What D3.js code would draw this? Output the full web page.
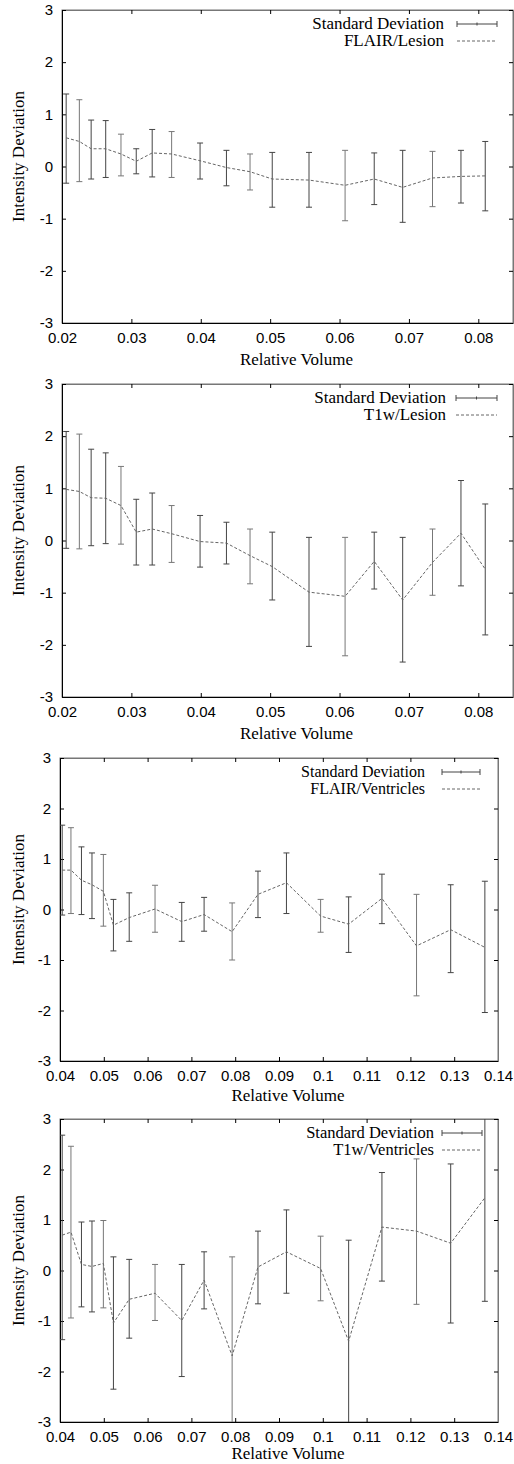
<!DOCTYPE html>
<html>
<head>
<meta charset="utf-8">
<script src="https://cdn.jsdelivr.net/npm/d3@7"></script>
<style>
  body { margin: 0; background: #fff; }
  .serif { font-family: 'Liberation Serif', 'Times New Roman', serif; }
  .sans { font-family: 'Liberation Sans', Arial, sans-serif; }
</style>
</head>
<body>
<div id="d3-container"></div>
<script>
// x values (relative volume)
const lesionVolume = [0.0206, 0.0225, 0.0242, 0.0263, 0.0285, 0.0307, 0.0330, 0.0358, 0.0399, 0.0437,
  0.0471, 0.0503, 0.0556, 0.0608, 0.0650, 0.0691, 0.0734, 0.0775, 0.0810];
const ventricleVolume = [0.0405, 0.0425, 0.0449, 0.0473, 0.0499, 0.0522, 0.0558, 0.0617, 0.0678, 0.0729,
  0.0793, 0.0852, 0.0917, 0.0995, 0.1059, 0.1135, 0.1214, 0.1292, 0.1370];

// FLAIR / Lesion
const flairLesionMean = [0.55, 0.48, 0.34, 0.34, 0.24, 0.10, 0.26, 0.24, 0.11, -0.02, -0.10, -0.24, -0.26, -0.36, -0.24, -0.40, -0.22, -0.19, -0.18];
const flairLesionHigh = [1.39, 1.28, 0.89, 0.88, 0.62, 0.34, 0.71, 0.67, 0.45, 0.31, 0.24, 0.27, 0.27, 0.31, 0.26, 0.31, 0.29, 0.31, 0.48];
const flairLesionLow = [-0.32, -0.29, -0.24, -0.21, -0.18, -0.14, -0.20, -0.21, -0.24, -0.37, -0.45, -0.78, -0.78, -1.04, -0.73, -1.07, -0.77, -0.70, -0.85];

// T1w / Lesion
const t1wLesionMean = [0.98, 0.94, 0.82, 0.81, 0.67, 0.16, 0.22, 0.13, -0.02, -0.05, -0.29, -0.50, -0.99, -1.07, -0.40, -1.14, -0.42, 0.14, -0.55];
const t1wLesionHigh = [2.09, 2.04, 1.75, 1.68, 1.42, 0.79, 0.91, 0.67, 0.48, 0.35, 0.22, 0.16, 0.06, 0.06, 0.16, 0.06, 0.22, 1.15, 0.70];
const t1wLesionLow = [-0.15, -0.16, -0.10, -0.06, -0.07, -0.47, -0.47, -0.42, -0.51, -0.45, -0.83, -1.14, -2.03, -2.21, -0.93, -2.33, -1.05, -0.87, -1.81];

// FLAIR / Ventricles
const flairVentMean = [0.78, 0.78, 0.58, 0.49, 0.36, -0.31, -0.16, 0.01, -0.24, -0.10, -0.44, 0.30, 0.53, -0.13, -0.29, 0.22, -0.72, -0.40, -0.75];
const flairVentHigh = [1.67, 1.62, 1.24, 1.12, 1.09, 0.20, 0.33, 0.48, 0.14, 0.24, 0.13, 0.76, 1.12, 0.20, 0.25, 0.70, 0.30, 0.49, 0.56];
const flairVentLow = [-0.11, -0.08, -0.10, -0.18, -0.33, -0.82, -0.63, -0.45, -0.63, -0.43, -1.00, -0.16, -0.08, -0.45, -0.85, -0.28, -1.71, -1.25, -2.04];

// T1w / Ventricles
const t1wVentMean = [0.70, 0.76, 0.12, 0.08, 0.14, -1.04, -0.57, -0.45, -0.99, -0.19, -1.69, 0.07, 0.37, 0.04, -1.40, 0.86, 0.78, 0.54, 1.44];
const t1wVentHigh = [2.68, 2.46, 0.96, 0.98, 0.99, 0.27, 0.22, 0.12, 0.12, 0.37, 0.27, 0.78, 1.20, 0.68, 0.60, 1.94, 2.21, 2.11, 3.49];
const t1wVentLow = [-1.37, -0.94, -0.72, -0.82, -0.74, -2.35, -1.34, -0.99, -2.10, -0.76, -3.65, -0.66, -0.45, -0.60, -3.40, -0.21, -0.67, -1.04, -0.61];

const seriesNames = ['FLAIR/Lesion', 'T1w/Lesion', 'FLAIR/Ventricles', 'T1w/Ventricles'];
const lesionTicks = [0.02, 0.03, 0.04, 0.05, 0.06, 0.07, 0.08];
const ventricleTicks = [0.04, 0.05, 0.06, 0.07, 0.08, 0.09, 0.1, 0.11, 0.12, 0.13, 0.14];
const yTicks = [-3, -2, -1, 0, 1, 2, 3];

const width = 514;
const height = 1464;

// panel frames
const panels = [
  { x: lesionVolume, mean: flairLesionMean, hi: flairLesionHigh, lo: flairLesionLow, name: seriesNames[0],
    xDomain: [0.02, 0.085], ticks: lesionTicks, left: 62, right: 513, top: 10, bottom: 323, xlab: 42,
    legRight: 444, legX1: 457, legX2: 497, legFont: 17 },
  { x: lesionVolume, mean: t1wLesionMean, hi: t1wLesionHigh, lo: t1wLesionLow, name: seriesNames[1],
    xDomain: [0.02, 0.085], ticks: lesionTicks, left: 62, right: 513, top: 384, bottom: 697, xlab: 42,
    legRight: 446, legX1: 456, legX2: 497, legFont: 17 },
  { x: ventricleVolume, mean: flairVentMean, hi: flairVentHigh, lo: flairVentLow, name: seriesNames[2],
    xDomain: [0.04, 0.14], ticks: ventricleTicks, left: 60, right: 498, top: 758, bottom: 1061, xlab: 40,
    legRight: 425, legX1: 442, legX2: 480, legFont: 16 },
  { x: ventricleVolume, mean: t1wVentMean, hi: t1wVentHigh, lo: t1wVentLow, name: seriesNames[3],
    xDomain: [0.04, 0.14], ticks: ventricleTicks, left: 60, right: 498, top: 1119, bottom: 1422, xlab: 37,
    legRight: 434, legX1: 442, legX2: 482, legFont: 16.5 }
];

const svg = d3.select('#d3-container')
  .append('svg')
  .attr('width', width)
  .attr('height', height);

const fmt = d => String(+d.toFixed(2));

function dessine(p, k) {
  const g = svg.append('g');

  const x = d3.scaleLinear().domain(p.xDomain).range([p.left, p.right]);
  const y = d3.scaleLinear().domain([-3, 3]).range([p.bottom, p.top]);

  const data = p.x.map((v, i) => ({ x: v, m: p.mean[i], hi: p.hi[i], lo: p.lo[i] }));

  g.append('clipPath').attr('id', 'clip' + k)
    .append('rect')
    .attr('x', p.left).attr('y', p.top)
    .attr('width', p.right - p.left).attr('height', p.bottom - p.top);

  // frame
  g.append('rect')
    .attr('x', p.left).attr('y', p.top)
    .attr('width', p.right - p.left).attr('height', p.bottom - p.top)
    .attr('fill', 'none').attr('stroke', '#777').attr('stroke-width', 1);

  // axes, ticks pointing inward, mirrored on top and right
  const tk = 4;
  g.append('g')
    .attr('transform', `translate(0,${p.bottom})`)
    .call(d3.axisBottom(x).tickValues(p.ticks).tickFormat(fmt).tickSizeInner(-tk).tickSizeOuter(0).tickPadding(9))
    .call(a => a.selectAll('text').attr('class', 'sans').attr('font-family', null).attr('font-size', 15).attr('fill', '#000'));
  g.append('g')
    .attr('transform', `translate(0,${p.top})`)
    .call(d3.axisTop(x).tickValues(p.ticks).tickFormat('').tickSizeInner(-tk).tickSizeOuter(0))
    .call(a => a.select('.domain').attr('stroke', '#777'));
  g.append('g')
    .attr('transform', `translate(${p.left},0)`)
    .call(d3.axisLeft(y).tickValues(yTicks).tickFormat(d => String(d)).tickSizeInner(-tk).tickSizeOuter(0).tickPadding(9))
    .call(a => a.selectAll('text').attr('class', 'sans').attr('font-size', 15).attr('fill', '#000'));
  g.append('g')
    .attr('transform', `translate(${p.right},0)`)
    .call(d3.axisRight(y).tickValues(yTicks).tickFormat('').tickSizeInner(-tk).tickSizeOuter(0))
    .call(a => a.select('.domain').attr('stroke', '#777'));
  g.selectAll('g[font-family]').attr('font-family', null);

  const plot = g.append('g').attr('clip-path', `url(#clip${k})`);

  // error bars
  const bars = plot.append('g').selectAll('g')
    .data(data)
    .join('g')
    .attr('stroke', (d, i) => i % 3 === 1 ? '#777' : '#444')
    .attr('stroke-width', 1);
  bars.append('line')
    .attr('x1', d => x(d.x)).attr('x2', d => x(d.x))
    .attr('y1', d => y(d.hi)).attr('y2', d => y(d.lo));
  bars.append('line')
    .attr('x1', d => x(d.x) - 3).attr('x2', d => x(d.x) + 3)
    .attr('y1', d => y(d.hi)).attr('y2', d => y(d.hi));
  bars.append('line')
    .attr('x1', d => x(d.x) - 3).attr('x2', d => x(d.x) + 3)
    .attr('y1', d => y(d.lo)).attr('y2', d => y(d.lo));

  // mean line
  plot.append('path')
    .datum(data)
    .attr('fill', 'none')
    .attr('stroke', '#666')
    .attr('stroke-width', 1)
    .attr('stroke-dasharray', '3,2')
    .attr('d', d3.line().x(d => x(d.x)).y(d => y(d.m)));

  // legend
  const ly1 = p.top + 14;
  const ly2 = p.top + 31;
  const leg = g.append('g')
    .attr('class', 'serif')
    .attr('font-size', p.legFont)
    .attr('text-anchor', 'end');
  leg.append('text').attr('x', p.legRight).attr('y', ly1).attr('dy', '0.32em').text('Standard Deviation');
  leg.append('text').attr('x', p.legRight).attr('y', ly2).attr('dy', '0.32em').text(p.name);
  const s = leg.append('g').attr('stroke', '#444').attr('stroke-width', 1);
  s.append('line').attr('x1', p.legX1).attr('x2', p.legX2).attr('y1', ly1).attr('y2', ly1);
  s.append('line').attr('x1', p.legX1).attr('x2', p.legX1).attr('y1', ly1 - 3).attr('y2', ly1 + 3);
  s.append('line').attr('x1', p.legX2).attr('x2', p.legX2).attr('y1', ly1 - 3).attr('y2', ly1 + 3);
  s.append('line').attr('x1', (p.legX1 + p.legX2) / 2).attr('x2', (p.legX1 + p.legX2) / 2).attr('y1', ly1 - 1.5).attr('y2', ly1 + 1.5);
  leg.append('line')
    .attr('x1', p.legX1).attr('x2', p.legX2).attr('y1', ly2).attr('y2', ly2)
    .attr('stroke', '#666').attr('stroke-dasharray', '3,2');

  // axis titles
  g.append('text')
    .attr('class', 'serif')
    .attr('x', (p.left + p.right) / 2 + 9)
    .attr('y', p.bottom + p.xlab)
    .attr('text-anchor', 'middle')
    .attr('font-size', 17)
    .text('Relative Volume');
  g.append('text')
    .attr('class', 'serif')
    .attr('transform', `translate(24,${(p.top + p.bottom) / 2 - 10}) rotate(-90)`)
    .attr('text-anchor', 'middle')
    .attr('font-size', 17)
    .text('Intensity Deviation');
}

panels.forEach((p, k) => dessine(p, k));
</script>
</body>
</html>
